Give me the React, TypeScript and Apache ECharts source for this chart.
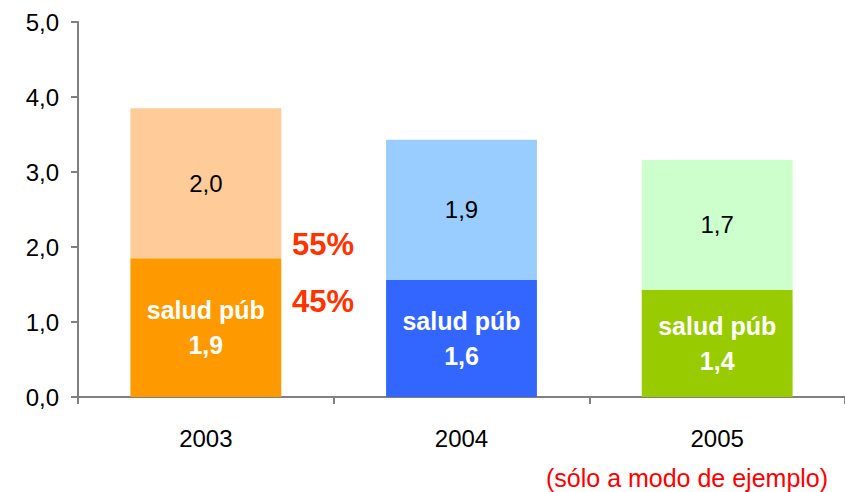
import React, { useEffect, useRef } from "react";
import * as echarts from "echarts";

const categories = ["2003", "2004", "2005"];
const publicValues = [1.85, 1.56, 1.43];
const otherValues = [2.0, 1.87, 1.73];
const yTicks = { min: 0, max: 5, interval: 1 };
const shareLabels = ["55%", "45%"];
const noteText = "(sólo a modo de ejemplo)";

const publicColors = ["#FF9900", "#3366FF", "#99CC00"];
const otherColors = ["#FFCC99", "#99CCFF", "#CCFFCC"];

const fmt = (v: number) => v.toFixed(1).replace(".", ",");
const FONT = "Liberation Sans, Arial, sans-serif";

export default function App() {
  const ref = useRef<HTMLDivElement>(null);
  useEffect(() => {
    if (!ref.current) return;
    const chart = echarts.init(ref.current, null, { renderer: "svg" });
    chart.setOption({
      animation: false,
      textStyle: { fontFamily: FONT },
      grid: { left: 78, right: 0, top: 22, bottom: 95, containLabel: false },
      xAxis: {
        type: "category",
        data: categories,
        boundaryGap: true,
        axisLine: { lineStyle: { color: "#808080", width: 2 } },
        axisTick: { show: true, length: 7, interval: 0, lineStyle: { color: "#808080", width: 2 } },
        axisLabel: { color: "#000", fontSize: 24, margin: 29, fontFamily: FONT },
        splitLine: { show: false },
      },
      yAxis: {
        type: "value",
        min: yTicks.min,
        max: yTicks.max,
        interval: yTicks.interval,
        axisLine: { show: true, lineStyle: { color: "#808080", width: 2 } },
        axisTick: { show: true, length: 7, lineStyle: { color: "#808080", width: 2 } },
        axisLabel: { color: "#000", fontSize: 24, margin: 19, fontFamily: FONT, formatter: (v: number) => fmt(v) },
        splitLine: { show: false },
      },
      series: [
        {
          type: "bar",
          stack: "total",
          barWidth: "59%",
          data: publicValues.map((v, i) => ({ value: v, itemStyle: { color: publicColors[i] } })),
          label: {
            show: true,
            position: "inside",
            color: "#fff",
            fontWeight: "bold",
            fontSize: 25,
            lineHeight: 35,
            fontFamily: FONT,
            formatter: (p: any) => "salud púb\n" + fmt(p.value),
          },
        },
        {
          type: "bar",
          stack: "total",
          barWidth: "59%",
          data: otherValues.map((v, i) => ({ value: v, itemStyle: { color: otherColors[i] } })),
          label: {
            show: true,
            position: "inside",
            color: "#000",
            fontSize: 24,
            fontFamily: FONT,
            formatter: (p: any) => fmt(p.value),
          },
        },
      ],
      graphic: [
        {
          type: "text",
          left: 292,
          top: 229,
          style: { text: shareLabels[0], fill: "#FF3300", font: `bold 31px ${FONT}` },
        },
        {
          type: "text",
          left: 292,
          top: 286,
          style: { text: shareLabels[1], fill: "#FF3300", font: `bold 31px ${FONT}` },
        },
        {
          type: "text",
          left: 546,
          top: 465,
          style: { text: noteText, fill: "#FF0000", font: `25px ${FONT}` },
        },
      ],
    });
    return () => chart.dispose();
  }, []);
  return (
    <div
      ref={ref}
      style={{ position: "absolute", left: 0, top: 0, width: 845, height: 492, background: "#fff" }}
    />
  );
}
